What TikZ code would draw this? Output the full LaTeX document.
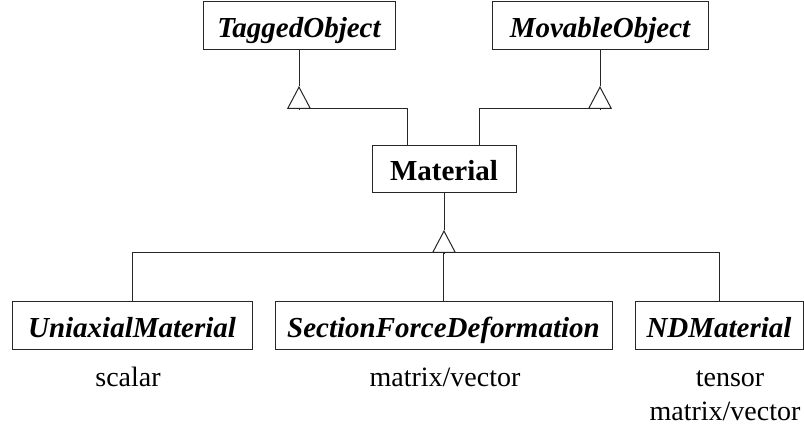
\documentclass[tikz,border=0pt]{standalone}
\usepackage{fontspec}
\setmainfont{Liberation Serif}
\usetikzlibrary{arrows.meta}
\tikzset{
  cls/.style={draw=black!85,line width=1pt,minimum height=48pt,inner sep=0pt,
    text height=25pt,text depth=2pt,
    font=\fontsize{29}{32}\selectfont\bfseries\itshape},
  clsb/.style={cls,minimum height=47pt,font=\fontsize{29}{32}\selectfont\bfseries},
  lnk/.style={draw=black!85,line width=1pt},
  gen/.style={lnk,-{Triangle[open,length=23pt,width=24pt]}},
  lb/.style={font=\fontsize{28}{32}\selectfont,anchor=base,inner sep=0pt},
}
\begin{document}
\begin{tikzpicture}[x=1pt,y=-1pt]
\useasboundingbox (0,0) rectangle (804,427);
% the two parents on top, Material in the middle
\node[cls,minimum width=192pt] (tag) at (299,26) {TaggedObject};
\node[cls,minimum width=216pt] (mov) at (600,26) {MovableObject};
\node[clsb,minimum width=144pt] (mat) at (444,169.5) {Material};
% the three subclasses
\node[cls,minimum width=240pt] (uni) at (132,326) {UniaxialMaterial};
\node[cls,minimum width=337pt] (sfd) at (443.5,326) {SectionForceDeformation};
\node[cls,minimum width=168pt] (nd) at (719,326) {NDMaterial};
\node[lb] (uniq) at (128,387) {scalar};
\node[lb] (sfdq) at (445,387) {matrix/vector};
\node[lb] (ndq) at (730,387) {tensor};
\node[lb] (ndr) at (725,421) {matrix/vector};
% generalisation: Material -> TaggedObject, MovableObject
\coordinate (topbar) at (0,109);
\coordinate (toptip) at (0,86);
\draw[lnk] ([xshift=-37pt]mat.north) |- (tag.south |- topbar);
\draw[gen] (tag.south |- topbar) -- (tag.south |- toptip);
\draw[lnk] (tag.south |- toptip) -- (tag.south);
\draw[lnk] ([xshift=35pt]mat.north) |- (mov.south |- topbar);
\draw[gen] (mov.south |- topbar) -- (mov.south |- toptip);
\draw[lnk] (mov.south |- toptip) -- (mov.south);
% generalisation: subclasses -> Material
\coordinate (lowbar) at (0,253);
\coordinate (lowtip) at (0,230);
\draw[lnk] (mat.south) -- (mat.south |- lowtip);
\draw[gen] (mat.south |- lowbar) -- (mat.south |- lowtip);
\draw[lnk] (uni.north) -- (uni.north |- lowbar) -- (nd.north |- lowbar) -- (nd.north);
\draw[lnk] (sfd.north) -- (sfd.north |- lowbar);
\end{tikzpicture}
\end{document}
